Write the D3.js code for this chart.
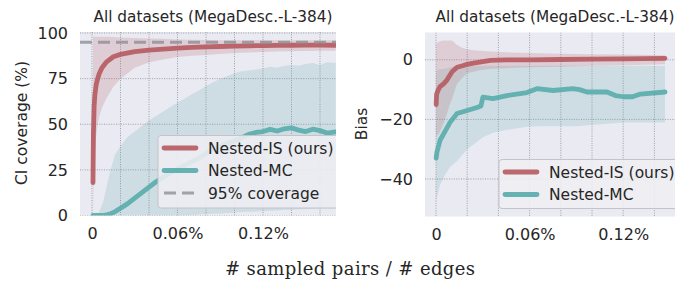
<!DOCTYPE html>
<html>
<head>
<meta charset="utf-8">
<script src="https://cdn.jsdelivr.net/npm/d3@7"></script>
<style>
  body { margin: 0; background: #fff; }
  svg { display: block; font-family: "DejaVu Sans", sans-serif; }
</style>
</head>
<body>
<svg width="675" height="282"></svg>
<script>
// ---- left panel: CI coverage (%), x = sampled pairs / edges in %
var covIsX  = [0.0007, 0.001, 0.0015, 0.002, 0.003, 0.004, 0.005, 0.007, 0.01, 0.015, 0.02, 0.03, 0.04, 0.05, 0.06, 0.07, 0.08, 0.09, 0.1, 0.11, 0.12, 0.13, 0.14, 0.15, 0.16, 0.171];
var covIs   = [18, 45, 60, 66, 72, 75, 77.5, 81, 84, 87, 88.3, 89.8, 90.6, 91.2, 91.7, 92.1, 92.4, 92.6, 92.8, 93, 93.1, 93.2, 93.3, 93.4, 93.4, 93.3];
var covIsLo = [0, 15, 28, 35, 44, 50, 54, 59, 64, 70.5, 75, 81, 84, 85.5, 86.8, 87.5, 88, 88.5, 89, 89.3, 89.6, 89.8, 90, 90.2, 90.3, 90.3];
var covIsHi = [98, 98, 98, 98, 98, 98, 98, 98, 98, 97.8, 97.5, 97.2, 97, 96.8, 96.5, 96.3, 96.2, 96, 96, 96, 96, 96, 96, 96, 96, 96];

var covMcX  = [0.0007, 0.004, 0.008, 0.01, 0.013, 0.016, 0.02, 0.025, 0.03, 0.035, 0.04, 0.045, 0.05, 0.055, 0.06, 0.065, 0.07, 0.075, 0.08, 0.085, 0.09, 0.095, 0.1, 0.105, 0.11, 0.115, 0.12, 0.125, 0.13, 0.135, 0.14, 0.145, 0.15, 0.155, 0.16, 0.165, 0.171];
var covMc   = [0, 0, 0, 0.3, 1, 2, 4, 6.5, 9.5, 12.5, 15.5, 18.5, 21, 23.5, 25.5, 27.5, 29.5, 31.5, 34, 36.5, 38, 39.5, 41, 42.5, 44.5, 45.5, 46, 47.2, 46.3, 47.5, 48, 46.8, 46, 47.3, 46.5, 45.2, 45.8];
var covMcLo = [0, 0, 0, 0, 0, 0, 0, 0, 0, 0, 0, 0, 0, 0, 0, 0.2, 0.3, 0.6, 0.8, 1, 1.1, 1.4, 1.6, 1.9, 2, 2.2, 2.5, 2.6, 2.8, 3.1, 3.2, 3.4, 3.5, 3.6, 3.8, 3.8, 3.9];
var covMcHi = [0, 0, 8, 15, 25, 33, 38, 43, 46, 49, 52, 54.5, 57, 59.5, 62, 64, 66.5, 68.5, 71, 73, 75, 76.5, 78, 79, 79.5, 80, 80.5, 81.5, 81, 82, 82.5, 82, 83, 83.5, 82.5, 84, 83.5];
var nominal = 95;

// ---- right panel: bias
var biasIsX  = [0.0001, 0.0004, 0.0015, 0.0026, 0.005, 0.007, 0.0085, 0.0103, 0.0135, 0.017, 0.02, 0.024, 0.028, 0.035, 0.045, 0.06, 0.08, 0.1, 0.12, 0.1468];
var biasIs   = [-15, -11.5, -10, -9, -8, -6.8, -5.5, -4, -2.5, -2, -1.5, -1.1, -0.8, -0.2, 0, 0, 0.1, 0.2, 0.3, 0.5];
var biasIsLo = [-26, -25.5, -25, -24, -21, -18, -15.5, -13, -8, -6, -4.5, -4, -3.5, -3, -2.8, -2.5, -2.3, -2, -1.8, -1.5];
var biasIsHi = [5, 5.5, 6, 6.2, 6.5, 6.5, 6.5, 6.5, 5, 4, 3.5, 3.2, 3, 2.8, 2.5, 2.3, 2, 1.9, 1.8, 1.5];

var biasMcX  = [0.0001, 0.0006, 0.0026, 0.0058, 0.009, 0.0135, 0.02, 0.0263, 0.0288, 0.0301, 0.0365, 0.0455, 0.0583, 0.0647, 0.075, 0.0878, 0.092, 0.0968, 0.1096, 0.115, 0.12, 0.126, 0.131, 0.1468];
var biasMc   = [-33, -31, -27, -24, -21, -18, -17, -16, -15.5, -12.5, -13, -12, -11, -9.7, -10.3, -9.7, -10, -10.8, -10.8, -12, -12.4, -12.4, -11.5, -10.8];
var biasMcLo = [-47, -46, -42, -38.5, -36, -34, -30, -27.5, -26.5, -26, -24.5, -23.5, -22.5, -22.3, -22.3, -22.3, -22.2, -22, -21.5, -21.3, -21, -21, -21, -21];
var biasMcHi = [-4, -3.5, -3.2, -3, -2.5, -2.2, -2, -2, -2, -2, -2, -2, -2, -2, -2, -2, -2, -2, -2, -2, -2, -2, -2, -2];

var xTicks = [0, 0.06, 0.12];
var covTicks = [0, 25, 50, 75, 100];
var biasTicks = [0, -20, -40];
var title = 'All datasets (MegaDesc.-L-384)';

var RED = '#b65c63', TEAL = '#5aacac', BG = '#eaeaf2', INK = '#262626';

var svg = d3.select('svg');

function zip(xs, m, lo, hi) {
  return xs.map(function (v, i) { return { x: v, y: m[i], lo: lo[i], hi: hi[i] }; });
}

function panel(o) {
  var x = d3.scaleLinear().domain(o.xDomain).range([o.left, o.right]);
  var y = d3.scaleLinear().domain(o.yDomain).range([o.bottom, o.top]);
  var g = svg.append('g');

  var clipId = 'clip' + o.id;
  svg.append('clipPath').attr('id', clipId)
    .append('rect')
    .attr('x', o.left).attr('y', o.top)
    .attr('width', o.right - o.left).attr('height', o.bottom - o.top);

  g.append('rect')
    .attr('x', o.left).attr('y', o.top)
    .attr('width', o.right - o.left).attr('height', o.bottom - o.top)
    .attr('fill', BG);

  var plot = g.append('g').attr('clip-path', 'url(#' + clipId + ')');

  // dotted grid
  var gridX = d3.range(0, o.xDomain[1], 0.02);
  plot.append('g').selectAll('line').data(gridX).enter().append('line')
    .attr('x1', function (d) { return x(d); }).attr('x2', function (d) { return x(d); })
    .attr('y1', o.top).attr('y2', o.bottom);
  plot.append('g').selectAll('line').data(o.yTicks).enter().append('line')
    .attr('y1', function (d) { return y(d); }).attr('y2', function (d) { return y(d); })
    .attr('x1', o.left).attr('x2', o.right);
  plot.selectAll('line')
    .attr('stroke', '#96969e').attr('stroke-width', 0.9).attr('stroke-dasharray', '1,1.4');

  var area = d3.area()
    .x(function (d) { return x(d.x); })
    .y0(function (d) { return y(d.lo); })
    .y1(function (d) { return y(d.hi); });
  var line = d3.line()
    .x(function (d) { return x(d.x); })
    .y(function (d) { return y(d.y); });

  o.series.forEach(function (s) {
    plot.append('path').datum(s.data).attr('d', area)
      .attr('fill', s.color).attr('fill-opacity', 0.2);
  });
  o.series.forEach(function (s) {
    plot.append('path').datum(s.data).attr('d', line)
      .attr('fill', 'none').attr('stroke', s.color)
      .attr('stroke-width', 4.8).attr('stroke-linejoin', 'round').attr('stroke-linecap', 'round')
      .attr('stroke-opacity', 0.92);
  });

  if (o.hline != null) {
    plot.append('line')
      .attr('x1', o.left).attr('x2', o.right)
      .attr('y1', y(o.hline)).attr('y2', y(o.hline))
      .attr('stroke', '#8f8f94').attr('stroke-opacity', 0.8)
      .attr('stroke-width', 3).attr('stroke-dasharray', '12,6');
  }

  // axes (no ticks, only labels)
  var ax = g.append('g').attr('transform', 'translate(0,' + o.bottom + ')')
    .call(d3.axisBottom(x).tickValues(xTicks).tickSize(0).tickPadding(12)
      .tickFormat(function (d) { return d === 0 ? '0' : d.toFixed(2) + '%'; }));
  var ay = g.append('g').attr('transform', 'translate(' + o.left + ',0)')
    .call(d3.axisLeft(y).tickValues(o.yTicks).tickSize(0).tickPadding(12)
      .tickFormat(d3.format('d')));
  [ax, ay].forEach(function (a) {
    a.select('.domain').remove();
    a.selectAll('text').attr('font-size', 16).attr('fill', INK)
      .attr('font-family', '"DejaVu Sans", sans-serif');
  });

  g.append('text')
    .attr('x', o.titleX).attr('y', 21.5)
    .attr('text-anchor', 'middle').attr('font-size', 15.3).attr('fill', INK)
    .text(title);

  g.append('text')
    .attr('transform', 'translate(' + o.ylabelX + ',' + o.ylabelY + ') rotate(-90)')
    .attr('text-anchor', 'middle').attr('font-size', 15.5).attr('fill', INK)
    .text(o.ylabel);

  // legend
  var lg = g.append('g').attr('clip-path', 'url(#' + clipId + ')');
  lg.append('rect')
    .attr('x', o.legend.x).attr('y', o.legend.y)
    .attr('width', 200).attr('height', o.legend.h).attr('rx', 3)
    .attr('fill', '#eeeef3').attr('fill-opacity', 0.88)
    .attr('stroke', '#c4c4c8').attr('stroke-width', 1);
  o.legend.items.forEach(function (it, i) {
    var yy = o.legend.y + 12.5 + i * 22.5;
    lg.append('line')
      .attr('x1', o.legend.x + 6).attr('x2', o.legend.x + 38)
      .attr('y1', yy).attr('y2', yy)
      .attr('stroke', it.color).attr('stroke-width', it.dash ? 3 : 4.8)
      .attr('stroke-opacity', it.dash ? 0.8 : 0.92)
      .attr('stroke-linecap', it.dash ? 'butt' : 'round')
      .attr('stroke-dasharray', it.dash ? '12,6' : null);
    lg.append('text')
      .attr('x', o.legend.x + 50).attr('y', yy + 5.5)
      .attr('font-size', 15.5).attr('fill', INK)
      .text(it.label);
  });
}

panel({
  id: 'a',
  left: 80, right: 336, top: 32, bottom: 215.5,
  xDomain: [-12 / 1425, 256 / 1425 - 12 / 1425],
  yDomain: [0, 183.5 / 1.825],
  yTicks: covTicks,
  hline: nominal,
  titleX: 213,
  ylabel: 'CI coverage (%)', ylabelX: 27, ylabelY: 123,
  series: [
    { color: TEAL, data: zip(covMcX, covMc, covMcLo, covMcHi) },
    { color: RED, data: zip(covIsX, covIs, covIsLo, covIsHi) }
  ],
  legend: {
    x: 158, y: 135.5, h: 72.5,
    items: [
      { label: 'Nested-IS (ours)', color: RED },
      { label: 'Nested-MC', color: TEAL },
      { label: '95% coverage', color: '#8f8f94', dash: true }
    ]
  }
});

panel({
  id: 'b',
  left: 425, right: 676, top: 32.5, bottom: 216.5,
  xDomain: [-11 / 1560, 240 / 1560],
  yDomain: [(59.8 - 216.5) / 2.98, (59.8 - 32.5) / 2.98],
  yTicks: biasTicks,
  hline: null,
  titleX: 555,
  ylabel: 'Bias', ylabelX: 367, ylabelY: 124,
  series: [
    { color: TEAL, data: zip(biasMcX, biasMc, biasMcLo, biasMcHi) },
    { color: RED, data: zip(biasIsX, biasIs, biasIsLo, biasIsHi) }
  ],
  legend: {
    x: 499, y: 159.5, h: 49,
    items: [
      { label: 'Nested-IS (ours)', color: RED },
      { label: 'Nested-MC', color: TEAL }
    ]
  }
});

svg.append('text')
  .attr('x', 350).attr('y', 275)
  .attr('text-anchor', 'middle')
  .attr('font-family', '"DejaVu Serif", serif')
  .attr('font-size', 18)
  .attr('textLength', 250).attr('lengthAdjust', 'spacing')
  .attr('fill', INK)
  .text('# sampled pairs / # edges');
</script>
</body>
</html>
